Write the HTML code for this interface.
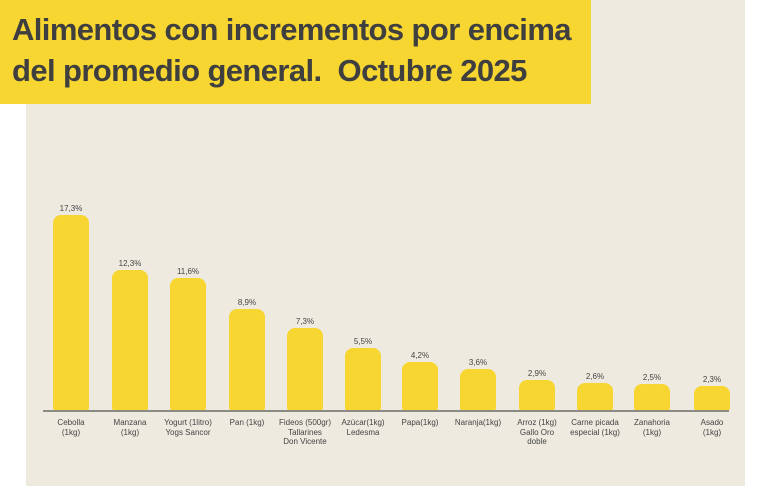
<!DOCTYPE html><html><head><style>
body{margin:0;width:769px;height:486px;background:#fff;position:relative;overflow:hidden;font-family:"Liberation Sans",sans-serif}
.panel{position:absolute;left:26px;top:0;width:719px;height:486px;background:#eeeadf}
.title{position:absolute;left:0;top:0;width:591px;height:104px;background:#f7d631}
.title div{position:absolute;left:12px;font-weight:bold;font-size:31px;color:#3f3f3f;letter-spacing:-0.6px;transform:scaleX(1.0);transform-origin:left;white-space:nowrap}
.bar{position:absolute;width:36px;background:#f7d631;border-radius:8px 8px 3px 3px}
.v{position:absolute;width:60px;text-align:center;font-size:8px;color:#444}
.c{position:absolute;width:70px;text-align:center;font-size:8px;line-height:9.5px;color:#444;top:418px}
.base{position:absolute;left:43px;top:410px;width:686px;height:2px;background:#8c8a85}
</style></head><body>
<div class="panel"></div>
<div class="title"><div style="top:12px">Alimentos con incrementos por encima</div><div style="top:53px">del promedio general.&nbsp; Octubre 2025</div></div>
<div id="c"></div>
<div class="base"></div>
<script>
var d=[[53,215,"17,3%","Cebolla<br>(1kg)"],[112,270,"12,3%","Manzana<br>(1kg)"],[170,278,"11,6%","Yogurt (1litro)<br>Yogs Sancor"],[229,309,"8,9%","Pan (1kg)"],[287,328,"7,3%","Fideos (500gr)<br>Tallarines<br>Don Vicente"],[345,348,"5,5%","Azúcar(1kg)<br>Ledesma"],[402,362,"4,2%","Papa(1kg)"],[460,369,"3,6%","Naranja(1kg)"],[519,380,"2,9%","Arroz (1kg)<br>Gallo Oro<br>doble"],[577,383,"2,6%","Carne picada<br>especial (1kg)"],[634,384,"2,5%","Zanahoria<br>(1kg)"],[694,386,"2,3%","Asado<br>(1kg)"]];
var h="";d.forEach(function(b){h+='<div class="bar" style="left:'+b[0]+'px;top:'+b[1]+'px;height:'+(411-b[1])+'px"></div><div class="v" style="left:'+(b[0]-12)+'px;top:'+(b[1]-11)+'px">'+b[2]+'</div><div class="c" style="left:'+(b[0]-17)+'px">'+b[3]+'</div>';});
document.getElementById("c").innerHTML=h;
</script>
</body></html>
